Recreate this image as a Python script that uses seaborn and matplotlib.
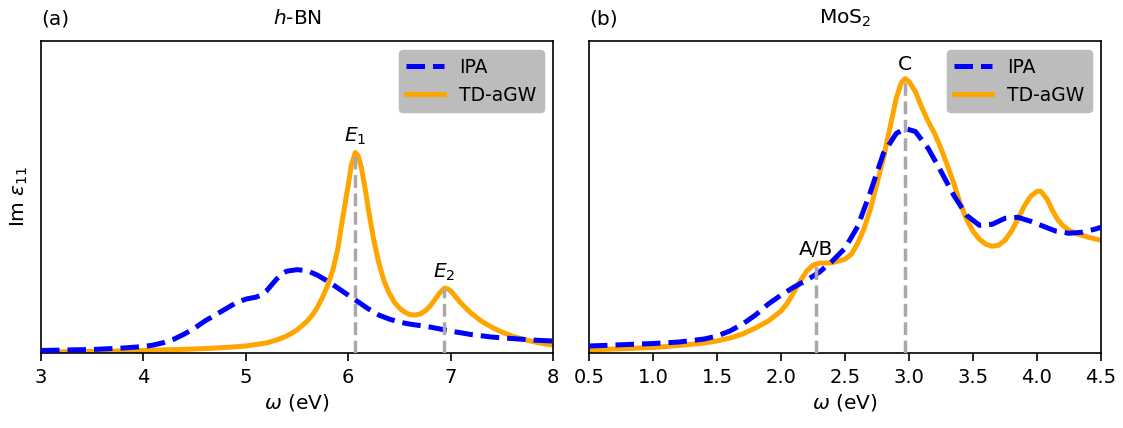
import numpy as np
import pandas as pd
import matplotlib
matplotlib.use("Agg")
import matplotlib.pyplot as plt
import seaborn as sns

# ---------------- data (arbitrary units) ----------------
# (a) h-BN
hbn_ipa_x = [3.0, 3.5, 3.8, 4.0, 4.1, 4.2, 4.3, 4.4, 4.5, 4.6, 4.7, 4.8, 4.9, 5.0, 5.05,
             5.1, 5.15, 5.2, 5.25, 5.3, 5.35, 5.4, 5.5, 5.6, 5.7, 5.8, 5.9, 6.0, 6.1,
             6.2, 6.3, 6.4, 6.5, 6.6, 6.8, 7.0, 7.2, 7.4, 7.6, 7.8, 8.0]
hbn_ipa_y = [2.5, 3.5, 5, 6.5, 8, 10.5, 14, 19, 25, 32, 38, 44, 50, 54, 55,
             56, 58, 62, 68, 74, 79, 82, 83.5, 82.5, 78, 72, 65, 58, 51,
             44, 38, 34, 31, 29, 26, 22, 18.5, 16, 14.5, 13, 12]

hbn_td_x = [3.0, 3.5, 4.0, 4.5, 4.8, 5.0, 5.2, 5.3, 5.4, 5.5, 5.6, 5.65, 5.7, 5.75, 5.8,
            5.85, 5.9, 5.95, 6.0, 6.03, 6.07, 6.1, 6.13, 6.17, 6.2, 6.25, 6.3, 6.35,
            6.4, 6.45, 6.5, 6.55, 6.6, 6.65, 6.7, 6.75, 6.8, 6.85, 6.9, 6.94, 6.98,
            7.02, 7.1, 7.2, 7.3, 7.4, 7.5, 7.6, 7.7, 7.8, 7.9, 8.0]
hbn_td_y = [1, 1.5, 2.5, 4, 5.5, 7, 10, 13, 17, 23, 32, 38, 46, 56, 68,
            83, 105, 138, 168, 188, 201, 197, 185, 162, 142, 113, 90, 72,
            60, 51, 45, 41, 38.5, 38, 39, 42, 47, 54, 61, 65, 64,
            60, 50, 40, 32, 26, 21, 17, 14, 11.5, 9.5, 8]

hbn_peaks_x = [6.07, 6.94]
hbn_peaks_y = [201, 65]
hbn_peak_labels = ["$E_1$", "$E_2$"]

# (b) MoS2
mos_ipa_x = [0.5, 0.8, 1.0, 1.2, 1.4, 1.5, 1.6, 1.7, 1.8, 1.9, 2.0, 2.1, 2.2, 2.3, 2.4,
             2.5, 2.6, 2.7, 2.8, 2.9, 2.97, 3.05, 3.15, 3.25, 3.35, 3.45, 3.55, 3.65,
             3.75, 3.85, 3.95, 4.05, 4.15, 4.25, 4.35, 4.45, 4.5]
mos_ipa_y = [7, 8.5, 9.5, 11, 14, 17, 22, 29, 38, 49, 58, 66, 73, 81, 92,
             105, 127, 162, 200, 220, 225, 222, 205, 182, 158, 138, 128, 129,
             135, 136, 132, 127, 122, 120, 121, 124, 126]

mos_td_x = [0.5, 0.8, 1.0, 1.2, 1.4, 1.5, 1.6, 1.7, 1.8, 1.9, 2.0, 2.05, 2.1, 2.15, 2.2,
            2.25, 2.3, 2.4, 2.5, 2.55, 2.6, 2.65, 2.7, 2.75, 2.8, 2.85, 2.9, 2.94,
            2.97, 3.0, 3.05, 3.1, 3.15, 3.2, 3.25, 3.3, 3.35, 3.4, 3.45, 3.5, 3.55,
            3.6, 3.65, 3.7, 3.75, 3.8, 3.85, 3.9, 3.95, 4.0, 4.03, 4.08, 4.12, 4.16,
            4.2, 4.25, 4.3, 4.4, 4.5]
mos_td_y = [3, 4.5, 5.5, 7.5, 10, 12, 15, 19, 25, 32, 42, 50, 61, 72, 82,
            88, 90, 90.5, 94, 99, 110, 125, 145, 170, 195, 225, 255, 271,
            275, 272, 262, 246, 232, 220, 205, 188, 170, 150, 134, 122, 114,
            109, 107, 108, 113, 122, 134, 147, 157, 162, 162, 154, 143, 134,
            128, 123, 120, 116, 113]

mos_peaks_x = [2.27, 2.97]
mos_peaks_y = [89, 275]
mos_peak_labels = ["A/B", "C"]

series_labels = ["IPA", "TD-aGW"]
xticks_a = [3, 4, 5, 6, 7, 8]
xticks_b = [0.5, 1.0, 1.5, 2.0, 2.5, 3.0, 3.5, 4.0, 4.5]

# ---------------- style ----------------
plt.rcParams.update({
    "font.family": ["DejaVu Sans"],
    "font.size": 14,
    "axes.linewidth": 1.2,
    "xtick.major.size": 5.5,
    "xtick.major.width": 1.2,
    "xtick.major.pad": 5,
    "xtick.labelsize": 14,
    "axes.labelsize": 14.5,
    "axes.titlesize": 14.5,
    "legend.fontsize": 13.5,
})

fig = plt.figure(figsize=(11.23, 4.28), dpi=100)
ax1 = fig.add_axes([41 / 1123, 1 - 353 / 428, 512 / 1123, 312.3 / 428])
ax2 = fig.add_axes([589 / 1123, 1 - 353 / 428, 512 / 1123, 312.3 / 428])

LW = 3.6
BLUE = "#0000ff"
ORANGE = "#ffa500"
GRAY = "#a9a9a9"


def panel(ax, ipa_x, ipa_y, td_x, td_y, px, py, plabels, xlim, xticks, title, tag):
    df_ipa = pd.DataFrame({"x": ipa_x, "y": ipa_y})
    df_td = pd.DataFrame({"x": td_x, "y": td_y})
    sns.lineplot(data=df_ipa, x="x", y="y", ax=ax, color=BLUE, lw=LW,
                 linestyle="--", label=series_labels[0], zorder=3)
    sns.lineplot(data=df_td, x="x", y="y", ax=ax, color=ORANGE, lw=LW,
                 label=series_labels[1], zorder=2)
    for xx, yy, lab in zip(px, py, plabels):
        ax.plot([xx, xx], [0, yy], color=GRAY, lw=2.5, linestyle="--", zorder=4)
        ax.text(xx, yy + 5, lab, ha="center", va="bottom", fontsize=14.5)
    ax.set_xlim(*xlim)
    ax.set_ylim(0, 313)
    ax.set_xticks(xticks)
    ax.set_yticks([])
    ax.set_xlabel(r"$\omega$ (eV)")
    ax.set_ylabel("")
    ax.set_title(title, pad=12)
    ax.set_title(tag, loc="left", pad=12)
    ax.legend(loc="upper right", facecolor="#bcbcbc", edgecolor="#bcbcbc",
              framealpha=1.0, handlelength=2.0)


panel(ax1, hbn_ipa_x, hbn_ipa_y, hbn_td_x, hbn_td_y, hbn_peaks_x, hbn_peaks_y,
      hbn_peak_labels, (3, 8), xticks_a, "$h$-BN", "(a)")
panel(ax2, mos_ipa_x, mos_ipa_y, mos_td_x, mos_td_y, mos_peaks_x, mos_peaks_y,
      mos_peak_labels, (0.5, 4.5), xticks_b, "MoS$_2$", "(b)")
ax2.set_xticklabels([f"{v:.1f}" for v in xticks_b])
ax1.set_ylabel(r"Im $\varepsilon_{11}$", labelpad=8)

fig.savefig("out.png", dpi=100)
